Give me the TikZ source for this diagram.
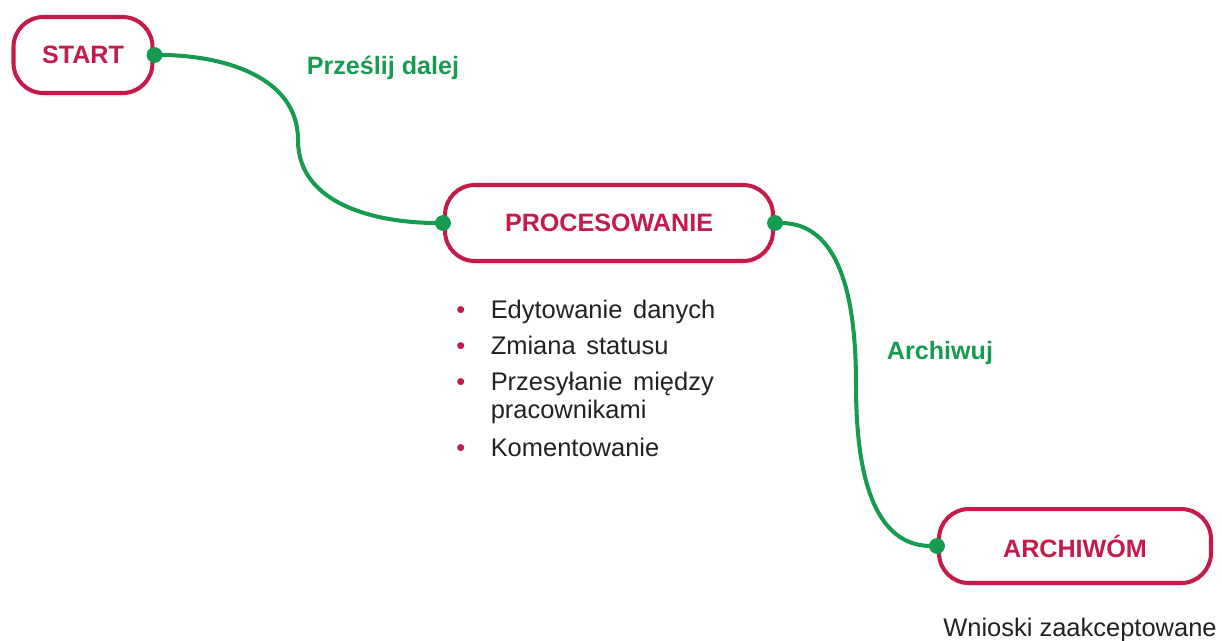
\documentclass[tikz,border=0pt]{standalone}
\usepackage{fontspec}
\setmainfont{Liberation Sans}
\usetikzlibrary{shapes,arrows.meta,positioning,shadows}

\definecolor{crimson}{HTML}{C41B4B}
\definecolor{flowgreen}{HTML}{179B51}
\definecolor{ink}{HTML}{222222}

\begin{document}
\begin{tikzpicture}[x=0.02cm,y=-0.02cm]

\tikzstyle{stage} = [rectangle, draw=crimson, line width=2.3pt, fill=white,
    rounded corners=17pt, minimum height=1.52cm, text=crimson,
    font=\fontsize{14.3}{17}\selectfont\bfseries,
    drop shadow={opacity=0.12, shadow xshift=0pt, shadow yshift=-2pt}]
\tikzstyle{label} = [text=flowgreen, font=\fontsize{14.3}{17}\selectfont\bfseries]
\tikzstyle{note} = [text=ink, font=\fontsize{14.5}{15.5}\selectfont]
\tikzstyle{line} = [draw=flowgreen, line width=2.3pt,
    {Circle[length=9pt]}-{Circle[length=9pt]},
    shorten <=-4.5pt, shorten >=-4.5pt]

\useasboundingbox (0,0) rectangle (1222,640);

\node [stage, minimum width=2.78cm] (start) at (83,55) {START};
\node [stage, minimum width=6.56cm] (proc) at (609,223) {PROCESOWANIE};
\node [stage, minimum width=5.44cm, minimum height=1.48cm] (archive) at (1075,546) {ARCHIWÓM};

\coordinate (bend1) at (298,140);
\coordinate (bend2) at (856,385);

\path [line] (start.east) to[out=0,in=90] (bend1) to[out=-90,in=180] (proc.west);
\path [line] (proc.east) to[out=0,in=90] (bend2) to[out=-90,in=180] (archive.west);

\node [label] (forward) at (383,68) {Prześlij dalej};
\node [label] (archlabel) at (940,353) {Archiwuj};

\node [note, anchor=base west, inner sep=0pt] (tasks) at (456,318) {%
  \spaceskip=0.42em plus 0.1em
  \begin{tabular}[t]{@{}l@{\hspace{14.5pt}}l@{}}
  \textcolor{crimson}{\textbullet} & Edytowanie danych \\[5.5pt]
  \textcolor{crimson}{\textbullet} & Zmiana statusu \\[5pt]
  \textcolor{crimson}{\textbullet} & Przesyłanie między \\
   & pracownikami \\[6.5pt]
  \textcolor{crimson}{\textbullet} & Komentowanie
  \end{tabular}};

\node [note, anchor=base, inner sep=0pt, font=\fontsize{14.5}{16}\selectfont] (accepted) at (1080,636) {Wnioski zaakceptowane};

\end{tikzpicture}
\end{document}
